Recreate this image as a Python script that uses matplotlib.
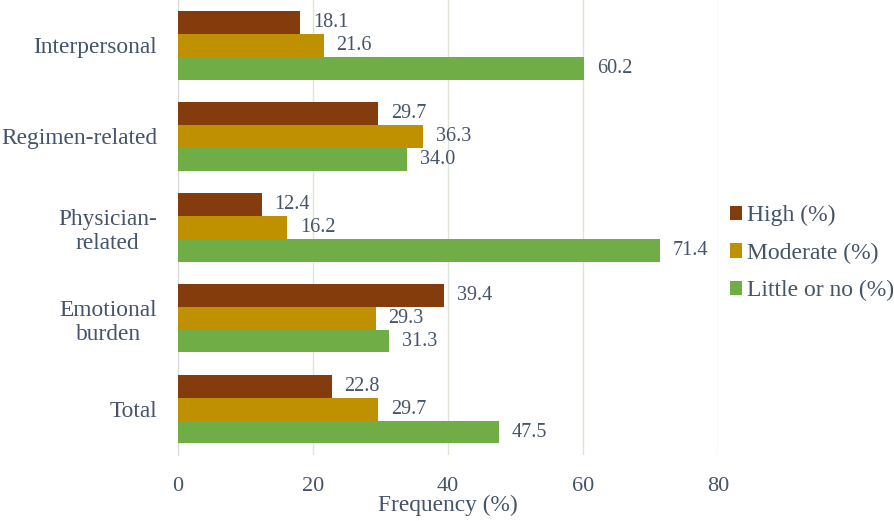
import matplotlib.pyplot as plt
import numpy as np

categories = ["Interpersonal", "Regimen-related", "Physician-\nrelated", "Emotional\nburden", "Total"]
high = [18.1, 29.7, 12.4, 39.4, 22.8]
moderate = [21.6, 36.3, 16.2, 29.3, 29.7]
little = [60.2, 34.0, 71.4, 31.3, 47.5]
series_names = ["High (%)", "Moderate (%)", "Little or no (%)"]
colors = ["#843C0C", "#BF9000", "#70AD47"]
xticks = [0, 20, 40, 60, 80]

txt = "#44546A"
plt.rcParams['font.family'] = ['Liberation Serif', 'DejaVu Serif']

fig = plt.figure(figsize=(8.94, 5.21), dpi=100)
ax = fig.add_axes([0.199, 0.127, 0.604, 0.873])

y = np.arange(len(categories))
h = 0.25
handles = []
for k, (vals, c, name) in enumerate(zip([high, moderate, little], colors, series_names)):
    pos = y + (k - 1) * h
    b = ax.barh(pos, vals, height=h, color=c, label=name, zorder=3)
    handles.append(b)
    for p, v in zip(pos, vals):
        ax.text(v + 1.9, p, f"{v:.1f}", va="center", ha="left", fontsize=14.5, color=txt)

ax.set_ylim(len(categories) - 0.5, -0.5)
ax.set_xlim(0, 80)
ax.set_yticks(y)
ax.set_yticklabels(categories, fontsize=16.8, color=txt, ha="right", multialignment="center")
ax.tick_params(axis="y", length=0, pad=15)
ax.set_xticks(xticks)
ax.set_xticklabels([str(t) for t in xticks], fontsize=16, color=txt)
ax.tick_params(axis="x", length=0, pad=16)
ax.set_xlabel("Frequency (%)", fontsize=16.8, color=txt, labelpad=-1)
ax.grid(axis="x", color="#DDE6D5", linewidth=1, zorder=0)
for s in ["top", "right", "bottom"]:
    ax.spines[s].set_visible(False)
ax.spines["left"].set_color("#D9D9D9")

fig.legend(handles=handles, loc="center left", bbox_to_anchor=(0.816, 0.514), frameon=False,
           fontsize=17, labelcolor=txt, handlelength=0.55, handleheight=0.55, handletextpad=0.2,
           labelspacing=0.69, borderaxespad=0, borderpad=0)

fig.savefig("out.png", dpi=100)
